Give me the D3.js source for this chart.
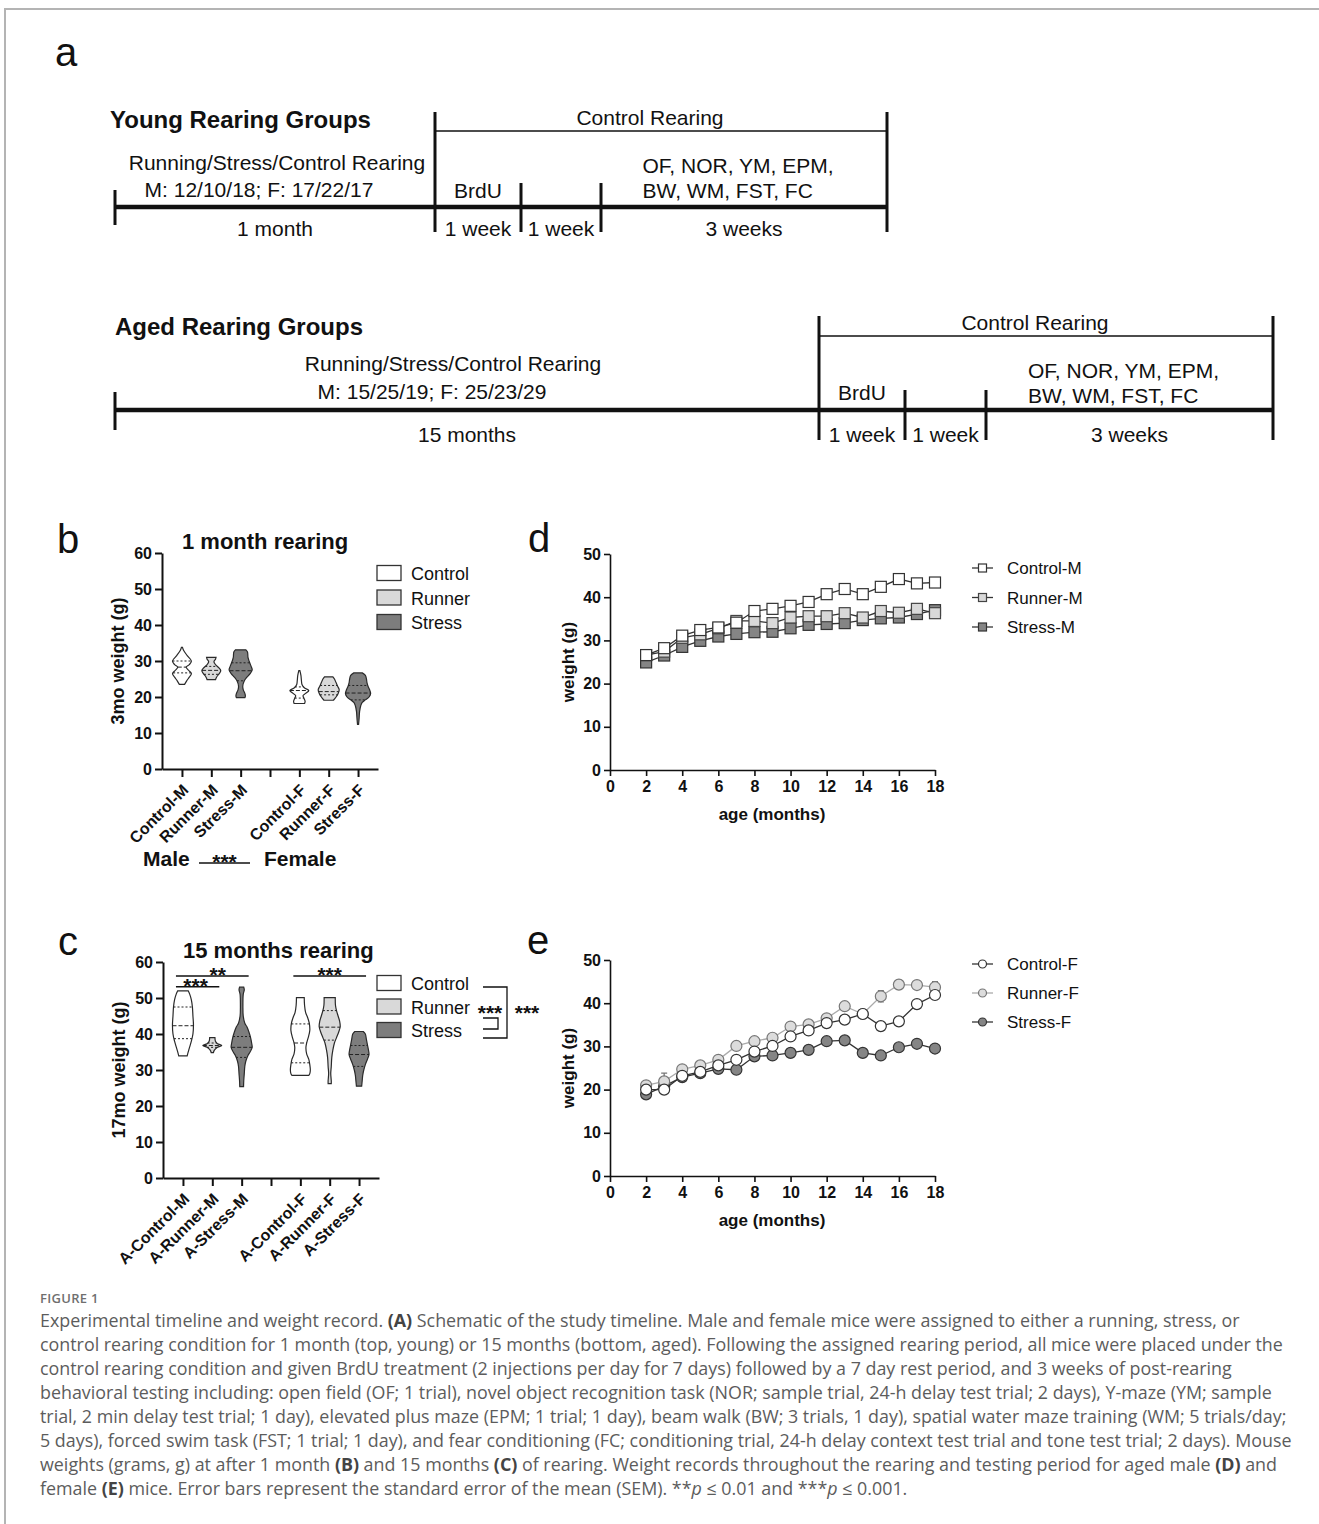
<!DOCTYPE html>
<html lang="en">
<head>
<meta charset="UTF-8">
<title>Figure 1 - timeline and weight record</title>
<script src="https://d3js.org/d3.v7.min.js"></script>
<style>
  body { margin: 0; background: #fff; }
  svg { display: block; }
  .fig text { font-family: "Liberation Sans", Arial, Helvetica, sans-serif; fill: #111; }
  .axis path, .axis line { stroke: #111; stroke-width: 2; }
  .axis.thin path, .axis.thin line { stroke-width: 1.6; }
  .axis text { font-weight: bold; font-size: 16px; fill: #111; }
  .cap text { font-family: "Open Sans", "Noto Sans", sans-serif; fill: #5c5c5c; }
</style>
</head>
<body>
<svg id="fig" class="fig" width="1319" height="1524"></svg>
<script>
// ---------- data ----------
// panel a: schematic segment spans (drawing units, not real time)
const youngLabels = ["1 month", "1 week", "1 week", "3 weeks"];
const youngSpans = [32, 8.6, 8, 28.6];
const agedLabels = ["15 months", "1 week", "1 week", "3 weeks"];
const agedSpans = [70.4, 8.6, 8.1, 28.7];

const groups = ["Control", "Runner", "Stress"];

// panel b (3mo weight, g): violin outlines as [weight, half width]
const slotsB = ["Control-M", "Runner-M", "Stress-M", "gap", "Control-F", "Runner-F", "Stress-F"];
const catsB = ["Control-M", "Runner-M", "Stress-M", "Control-F", "Runner-F", "Stress-F"];
const profilesB = [
  [[33.8,0.5],[33,1.5],[31.5,5],[30,9],[29,7],[28.3,4],[27.5,6],[26.5,9],[25.5,7],[24.5,4.5],[23.5,2.5]],
  [[31,4.5],[30.5,4],[29.8,2.5],[29,4],[28,7.5],[27.3,9],[26.5,7.5],[25.5,5],[24.8,4]],
  [[33.1,5],[32.5,6.5],[31,7],[30,8],[28.5,10],[27.5,11],[26.5,9],[25.5,6],[24.5,3.5],[23,2],[22,2.5],[21,4],[20.3,4.5],[19.8,4]],
  [[27.3,0.5],[26,1.5],[24.5,2],[23.5,2.5],[22.5,5],[21.8,9],[21,6],[20.4,3.5],[19.6,4.5],[18.8,5.5],[18.2,5]],
  [[25.6,4],[25,5.5],[24,7],[23,8.5],[22,10],[21,9],[20,7],[19.1,4.5]],
  [[26.7,4],[26,7],[25,8],[24,8.5],[23,9.5],[22,11],[21,12],[20,10.5],[19.2,7],[18.5,4],[17.5,2.5],[16,1.5],[14,1],[12.4,0.5]]
];
const q3B = [30, 28.5, 29.5, 22.8, 23.2, 23.2];
const medB = [28.3, 27.4, 27.3, 21.8, 21.5, 21.1];
const q1B = [26.7, 26.3, 24.5, 19.7, 20.6, 19.2];

// panel c (17mo weight, g)
const slotsC = ["A-Control-M", "A-Runner-M", "A-Stress-M", "gap", "A-Control-F", "A-Runner-F", "A-Stress-F"];
const catsC = ["A-Control-M", "A-Runner-M", "A-Stress-M", "A-Control-F", "A-Runner-F", "A-Stress-F"];
const profilesC = [
  [[52,5],[51,6.5],[49.5,8],[47.5,9],[45,9.5],[42.5,10],[40,9.5],[38,8],[36,6],[34.5,4.5],[33.9,4]],
  [[39,2.5],[38,3],[37.3,5],[36.8,9],[36.3,5],[35.5,2],[34.8,1]],
  [[53,2],[52.3,2.5],[51,1.5],[48,1.2],[45,1.5],[43,3],[42,5],[40.5,7],[39,8.5],[37.5,9.5],[36.3,10],[35,8],[34,6],[32.5,4],[31,3],[29,2.5],[27,2],[25.4,1.8]],
  [[50.1,3.7],[48,4],[46,5],[44.5,7],[43,8.5],[41,9],[39,7.5],[37.5,6],[36.2,5.3],[34.5,6],[33,8],[31.5,9],[30,9.5],[29,9],[28.5,8]],
  [[50.1,5.3],[48,5.5],[46.5,6.5],[45,8],[43.5,9.5],[42,10],[40.5,8.5],[39,6.5],[37.5,4.5],[35.5,3],[33.5,2],[31,1.5],[29,1],[27,1.5],[26.2,1.5]],
  [[40.7,4],[40,6],[38.5,7],[37,8],[35.5,9],[34.3,9.5],[33,8],[31.5,6],[30,4.5],[28.5,3.5],[27,3],[25.5,2.5]]
];
const q3C = [47.5, 37.5, 39.3, 42.8, 46.5, 36.8];
const medC = [42.3, 36.8, 36.3, 37.5, 41.9, 34.3];
const q1C = [38.7, 36.3, 33.5, 32, 38.3, 31];
const sigC = [
  { from: "A-Control-M", to: "A-Stress-M", level: 56.1, label: "**", dx: 5.5 },
  { from: "A-Control-M", to: "A-Runner-M", level: 53.1, label: "***", dx: -2 },
  { from: "A-Control-F", to: "A-Stress-F", level: 56.1, label: "***", dx: 0 }
];

// panels d, e: monthly weights (g)
const months = [2, 3, 4, 5, 6, 7, 8, 9, 10, 11, 12, 13, 14, 15, 16, 17, 18];
const controlM = [26.6,28.2,31.1,32.4,33.0,34.1,36.8,37.3,38.0,38.9,40.7,41.9,40.7,42.4,44.2,43.2,43.4];
const runnerM  = [26.6,27.4,30.6,31.4,32.8,34.5,34.5,34.0,35.3,35.6,35.6,36.3,35.3,36.8,36.4,37.3,36.3];
const stressM  = [24.9,26.5,28.5,29.9,30.9,31.5,31.9,32.0,32.8,33.6,33.8,34.0,34.7,35.1,35.3,36.1,37.0];
const semControlM = [0.5,0.5,0.6,0.6,0.6,0.6,0.7,0.7,0.7,0.7,0.8,0.8,0.8,0.8,0.9,0.9,0.9];
const semRunnerM  = [0.5,0.5,0.5,0.5,0.6,0.6,0.6,0.6,0.6,0.6,0.6,0.7,0.7,0.7,0.7,0.7,0.7];
const semStressM  = [0.5,0.5,0.5,0.5,0.5,0.5,0.6,0.6,0.6,0.6,0.6,0.6,0.6,0.6,0.6,0.7,0.9];

const controlF = [20.0,20.0,23.2,24.1,25.6,26.9,28.8,30.1,32.3,33.7,35.4,36.2,37.5,34.7,35.8,39.8,41.9];
const runnerF  = [21.0,21.9,24.7,25.6,26.9,30.1,31.2,32.0,34.6,35.1,36.5,39.3,37.5,41.6,44.3,44.2,43.7];
const stressF  = [18.9,20.8,22.9,23.8,24.8,24.6,27.7,27.9,28.5,29.2,31.2,31.4,28.5,27.9,29.8,30.6,29.5];
const semControlF = [0.5,0.6,0.5,0.5,0.5,0.5,0.6,0.6,0.6,0.7,0.8,0.9,0.6,0.7,0.9,0.7,0.8];
const semRunnerF  = [0.6,1.9,0.6,0.6,0.6,0.6,0.6,0.6,0.7,0.7,0.8,0.9,0.7,1.3,1.0,0.8,1.3];
const semStressF  = [0.5,0.5,0.5,0.5,0.5,0.5,0.6,0.6,0.6,0.6,0.8,0.7,0.8,0.7,0.6,0.6,0.6];

// caption, one entry per printed line: [text, style]
const captionLines = [
  [["Experimental timeline and weight record. "], ["(A)", "b"], [" Schematic of the study timeline. Male and female mice were assigned to either a running, stress, or"]],
  [["control rearing condition for 1 month (top, young) or 15 months (bottom, aged). Following the assigned rearing period, all mice were placed under the"]],
  [["control rearing condition and given BrdU treatment (2 injections per day for 7 days) followed by a 7 day rest period, and 3 weeks of post-rearing"]],
  [["behavioral testing including: open field (OF; 1 trial), novel object recognition task (NOR; sample trial, 24-h delay test trial; 2 days), Y-maze (YM; sample"]],
  [["trial, 2 min delay test trial; 1 day), elevated plus maze (EPM; 1 trial; 1 day), beam walk (BW; 3 trials, 1 day), spatial water maze training (WM; 5 trials/day;"]],
  [["5 days), forced swim task (FST; 1 trial; 1 day), and fear conditioning (FC; conditioning trial, 24-h delay context test trial and tone test trial; 2 days). Mouse"]],
  [["weights (grams, g) at after 1 month "], ["(B)", "b"], [" and 15 months "], ["(C)", "b"], [" of rearing. Weight records throughout the rearing and testing period for aged male "], ["(D)", "b"], [" and"]],
  [["female "], ["(E)", "b"], [" mice. Error bars represent the standard error of the mean (SEM). **"], ["p", "i"], [" \u2264 0.01 and ***"], ["p", "i"], [" \u2264 0.001."]]
];

// ---------- drawing ----------
const fig = d3.select("#fig");
const fill = d3.scaleOrdinal().domain(groups).range(["#ffffff", "#d9d9d9", "#7d7d7d"]);
const STAR = 21;

// frame
fig.append("line").attr("x1", 5).attr("x2", 1319).attr("y1", 9).attr("y2", 9)
  .attr("stroke", "#b4b4b4").attr("stroke-width", 2);
fig.append("line").attr("x1", 5).attr("x2", 5).attr("y1", 8).attr("y2", 1524)
  .attr("stroke", "#b4b4b4").attr("stroke-width", 2);

// panel letters
[["a", 55, 66], ["b", 57, 553], ["c", 58, 955], ["d", 528, 552], ["e", 527, 954]].forEach(([t, x, y]) => {
  fig.append("text").attr("x", x).attr("y", y).attr("font-size", 40).text(t);
});

// ---- panel a ----
const tx = d3.scaleLinear().domain([0, d3.sum(agedSpans)]).range([115, 1273]);

function timeline(cfg) {
  const g = fig.append("g").attr("font-size", 21);
  const edges = [0, ...d3.cumsum(cfg.spans)];
  const y0 = cfg.y;
  g.append("text").attr("x", cfg.titleX).attr("y", cfg.titleY)
    .attr("font-size", 24).attr("font-weight", "bold").text(cfg.title);

  g.append("line").attr("x1", tx(0)).attr("x2", tx(edges[4])).attr("y1", y0).attr("y2", y0)
    .attr("stroke", "#111").attr("stroke-width", 4.5);
  const ext = [cfg.startExt, cfg.bigExt, cfg.innerExt, cfg.innerExt, cfg.bigExt];
  edges.forEach((e, i) => {
    g.append("line").attr("x1", tx(e)).attr("x2", tx(e))
      .attr("y1", y0 + ext[i][0]).attr("y2", y0 + ext[i][1])
      .attr("stroke", "#111").attr("stroke-width", 3);
  });
  g.append("line").attr("x1", tx(edges[1])).attr("x2", tx(edges[4]))
    .attr("y1", y0 + cfg.thin).attr("y2", y0 + cfg.thin)
    .attr("stroke", "#111").attr("stroke-width", 1.3);

  const mid = i => (tx(edges[i]) + tx(edges[i + 1])) / 2;
  cfg.labels.forEach((t, i) => {
    g.append("text").attr("x", mid(i)).attr("y", y0 + cfg.below).attr("text-anchor", "middle").text(t);
  });
  g.append("text").attr("x", (tx(edges[1]) + tx(edges[4])) / 2 - 11).attr("y", y0 + cfg.thin - 6)
    .attr("text-anchor", "middle").text("Control Rearing");
  g.append("text").attr("x", mid(0) + cfg.rearDx).attr("y", y0 + cfg.rearY)
    .attr("text-anchor", "middle").text("Running/Stress/Control Rearing");
  g.append("text").attr("x", mid(0) + cfg.nDx).attr("y", y0 + cfg.nY)
    .attr("text-anchor", "middle").text(cfg.counts);
  g.append("text").attr("x", mid(1)).attr("y", y0 + cfg.nY + 1)
    .attr("text-anchor", "middle").text("BrdU");
  const t1 = g.append("text").attr("y", y0 + cfg.testY).text("OF, NOR, YM, EPM,");
  const w1 = t1.node().getComputedTextLength();
  t1.attr("x", mid(3) - w1 / 2 - 6);
  g.append("text").attr("x", mid(3) - w1 / 2 - 6).attr("y", y0 + cfg.testY + 25).text("BW, WM, FST, FC");
}

timeline({
  title: "Young Rearing Groups", titleX: 110, titleY: 128, y: 207, spans: youngSpans, labels: youngLabels,
  startExt: [-17, 18], bigExt: [-95, 25], innerExt: [-24, 25], thin: -76, below: 29,
  rearDx: 2, rearY: -37, nDx: -16, nY: -10, testY: -34, counts: "M: 12/10/18; F: 17/22/17"
});
timeline({
  title: "Aged Rearing Groups", titleX: 115, titleY: 335, y: 410, spans: agedSpans, labels: agedLabels,
  startExt: [-18, 20], bigExt: [-94, 30], innerExt: [-20, 30], thin: -74, below: 32,
  rearDx: -14, rearY: -39, nDx: -35, nY: -11, testY: -32, counts: "M: 15/25/19; F: 25/23/29"
});

// ---- violin panels ----
function halfAt(prof, v) {
  for (let i = 0; i < prof.length - 1; i++) {
    const a = prof[i], b = prof[i + 1];
    if (v <= a[0] && v >= b[0]) return a[1] + (b[1] - a[1]) * (a[0] - v) / (a[0] - b[0]);
  }
  return 0;
}

function violinPanel(cfg) {
  const g = fig.append("g");
  const x = d3.scalePoint().domain(cfg.slots).range([cfg.left, cfg.right]).padding(0.68);
  const y = d3.scaleLinear().domain([0, 60]).range([cfg.bottom, cfg.top]);
  const w = d3.scaleLinear().domain([0, 10]).range([0, 10.5]);
  const groupOf = c => c.replace(/^A-/, "").split("-")[0];

  cfg.cats.forEach((c, i) => {
    const prof = cfg.profiles[i];
    const cx = x(c);
    const area = d3.area().curve(d3.curveCatmullRom.alpha(0.5))
      .y(d => y(d[0])).x0(d => cx - w(d[1])).x1(d => cx + w(d[1]));
    g.append("path").attr("d", area(prof))
      .attr("fill", fill(groupOf(c))).attr("stroke", "#2a2a2a").attr("stroke-width", 1.2);
    [[cfg.q1[i], "2,2"], [cfg.med[i], "4,2"], [cfg.q3[i], "2,2"]].forEach(([v, dash]) => {
      const hw = w(halfAt(prof, v));
      g.append("line").attr("x1", cx - hw).attr("x2", cx + hw).attr("y1", y(v)).attr("y2", y(v))
        .attr("stroke", "#222").attr("stroke-width", 1).attr("stroke-dasharray", dash);
    });
  });

  g.append("g").attr("class", "axis").attr("transform", `translate(${cfg.left},0)`)
    .call(d3.axisLeft(y).tickValues([0, 10, 20, 30, 40, 50, 60]).tickSize(7).tickSizeOuter(0).tickPadding(3));
  const xa = g.append("g").attr("class", "axis").attr("transform", `translate(0,${cfg.bottom})`)
    .call(d3.axisBottom(x).tickSize(8).tickSizeOuter(0).tickFormat(d => d === "gap" ? "" : d));
  xa.selectAll("text").attr("x", null).attr("y", null).attr("dy", null)
    .attr("text-anchor", "end").attr("transform", "translate(7,22) rotate(-45)");

  g.append("text").attr("transform", `translate(${cfg.left - 38},${(cfg.top + cfg.bottom) / 2}) rotate(-90)`)
    .attr("text-anchor", "middle").attr("font-size", 18).attr("font-weight", "bold").text(cfg.ylabel);
  g.append("text").attr("x", cfg.left + 20).attr("y", cfg.top - 4)
    .attr("font-size", 22).attr("font-weight", "bold").text(cfg.title);

  // legend
  groups.forEach((gr, i) => {
    const cy = cfg.legendY + i * cfg.legendStep;
    g.append("rect").attr("x", 377).attr("y", cy - 7.5).attr("width", 24).attr("height", 15)
      .attr("fill", fill(gr)).attr("stroke", "#333").attr("stroke-width", 1.3);
    g.append("text").attr("x", 411).attr("y", cy + 7).attr("font-size", 18).text(gr);
  });
  return { g, x, y };
}

violinPanel({
  slots: slotsB, cats: catsB, profiles: profilesB, q1: q1B, med: medB, q3: q3B,
  left: 162, right: 378, top: 553, bottom: 769, ylabel: "3mo weight (g)", title: "1 month rearing",
  legendY: 573, legendStep: 24.5
});

// Male *** Female
fig.append("text").attr("x", 143).attr("y", 866).attr("font-size", 21).attr("font-weight", "bold").text("Male");
fig.append("text").attr("x", 264).attr("y", 866).attr("font-size", 21).attr("font-weight", "bold").text("Female");
fig.append("line").attr("x1", 199).attr("x2", 250).attr("y1", 863).attr("y2", 863).attr("stroke", "#111").attr("stroke-width", 1.5);
fig.append("text").attr("x", 224.5).attr("y", 869).attr("text-anchor", "middle").attr("font-size", STAR).attr("font-weight", "bold").text("***");

const pc = violinPanel({
  slots: slotsC, cats: catsC, profiles: profilesC, q1: q1C, med: medC, q3: q3C,
  left: 163, right: 379, top: 962, bottom: 1178, ylabel: "17mo weight (g)", title: "15 months rearing",
  legendY: 983, legendStep: 23.5
});
sigC.forEach(s => {
  const yy = pc.y(s.level);
  const x1 = pc.x(s.from) - 7, x2 = pc.x(s.to) + 7;
  pc.g.append("line").attr("x1", x1).attr("x2", x2).attr("y1", yy).attr("y2", yy)
    .attr("stroke", "#111").attr("stroke-width", 1.5);
  pc.g.append("text").attr("x", (x1 + x2) / 2 + s.dx).attr("y", yy + 6).attr("text-anchor", "middle")
    .attr("font-size", STAR).attr("font-weight", "bold").text(s.label);
});
// legend brackets (Control vs Stress, Runner vs Stress)
pc.g.append("path").attr("d", "M483,987H507V1038H483").attr("fill", "none").attr("stroke", "#111").attr("stroke-width", 1.3);
pc.g.append("path").attr("d", "M483,1018H498V1029H483").attr("fill", "none").attr("stroke", "#111").attr("stroke-width", 1.3);
pc.g.append("text").attr("x", 490).attr("y", 1020).attr("text-anchor", "middle").attr("font-size", STAR).attr("font-weight", "bold").text("***");
pc.g.append("text").attr("x", 527).attr("y", 1020).attr("text-anchor", "middle").attr("font-size", STAR).attr("font-weight", "bold").text("***");

// ---- line panels ----
function marker(g, shape, cx, cy, size, s) {
  if (shape === "square") {
    g.append("rect").attr("x", cx - size / 2).attr("y", cy - size / 2).attr("width", size).attr("height", size)
      .attr("fill", s.fill).attr("stroke", s.stroke).attr("stroke-width", 1.2);
  } else {
    g.append("circle").attr("cx", cx).attr("cy", cy).attr("r", size / 2)
      .attr("fill", s.fill).attr("stroke", s.stroke).attr("stroke-width", 1.2);
  }
}

function linePanel(cfg) {
  const g = fig.append("g");
  const x = d3.scaleLinear().domain([0, 18]).range([610, 935]);
  const y = d3.scaleLinear().domain([0, 50]).range([cfg.bottom, cfg.bottom - 216]);

  g.append("g").attr("class", "axis thin").attr("transform", "translate(610,0)")
    .call(d3.axisLeft(y).tickValues([0, 10, 20, 30, 40, 50]).tickSize(6).tickSizeOuter(0).tickPadding(3));
  g.append("g").attr("class", "axis thin").attr("transform", `translate(0,${cfg.bottom})`)
    .call(d3.axisBottom(x).tickValues([0, 2, 4, 6, 8, 10, 12, 14, 16, 18]).tickSize(6).tickSizeOuter(0).tickPadding(5));
  g.append("text").attr("x", 772).attr("y", cfg.bottom + 50).attr("text-anchor", "middle")
    .attr("font-size", 17).attr("font-weight", "bold").text("age (months)");
  g.append("text").attr("transform", `translate(574,${cfg.bottom - 108}) rotate(-90)`)
    .attr("text-anchor", "middle").attr("font-size", 17).attr("font-weight", "bold").text("weight (g)");

  const line = d3.line().x((d, i) => x(months[i])).y(d => y(d));
  // draw last series first so the first one sits on top
  cfg.series.slice().reverse().forEach(s => {
    const sg = g.append("g");
    sg.append("path").attr("d", line(s.values)).attr("fill", "none")
      .attr("stroke", s.line).attr("stroke-width", 1.3);
    s.values.forEach((v, i) => {
      const px = x(months[i]), e = s.sem[i];
      sg.append("path").attr("d", `M${px},${y(v - e)}V${y(v + e)}M${px - 3},${y(v + e)}H${px + 3}M${px - 3},${y(v - e)}H${px + 3}`)
        .attr("stroke", s.stroke).attr("stroke-width", 1.3).attr("fill", "none");
    });
    s.values.forEach((v, i) => marker(sg, cfg.shape, x(months[i]), y(v), 11, s));
  });

  cfg.series.forEach((s, i) => {
    const cy = cfg.legendY + i * cfg.legendStep;
    g.append("line").attr("x1", 972).attr("x2", 993).attr("y1", cy).attr("y2", cy)
      .attr("stroke", s.line).attr("stroke-width", 1.3);
    marker(g, cfg.shape, 982.5, cy, 8, s);
    g.append("text").attr("x", 1007).attr("y", cy + 6).attr("font-size", 17).text(s.name);
  });
}

linePanel({
  shape: "square", bottom: 770, legendY: 568, legendStep: 29.5,
  series: [
    { name: "Control-M", values: controlM, sem: semControlM, fill: "#ffffff", stroke: "#333", line: "#333" },
    { name: "Runner-M", values: runnerM, sem: semRunnerM, fill: "#d9d9d9", stroke: "#444", line: "#333" },
    { name: "Stress-M", values: stressM, sem: semStressM, fill: "#858585", stroke: "#333", line: "#333" }
  ]
});
linePanel({
  shape: "circle", bottom: 1176, legendY: 964, legendStep: 29,
  series: [
    { name: "Control-F", values: controlF, sem: semControlF, fill: "#ffffff", stroke: "#333", line: "#333" },
    { name: "Runner-F", values: runnerF, sem: semRunnerF, fill: "#dcdcdc", stroke: "#777", line: "#aaa" },
    { name: "Stress-F", values: stressF, sem: semStressF, fill: "#858585", stroke: "#333", line: "#333" }
  ]
});

// ---- caption ----
const cap = fig.append("g").attr("class", "cap");
cap.append("text").attr("x", 40).attr("y", 1303).attr("font-size", 13).attr("font-weight", 600)
  .attr("letter-spacing", 0.3).style("fill", "#6f6f6f").text("FIGURE 1");
const capTexts = captionLines.map((parts, li) => {
  const t = cap.append("text").attr("x", 40).attr("y", 1327 + li * 24).attr("font-size", 16);
  parts.forEach(([s, st]) => {
    const sp = t.append("tspan").text(s);
    if (st === "b") sp.attr("font-weight", "bold").style("fill", "#444");
    if (st === "i") sp.attr("font-style", "italic");
  });
  return t;
});
const measured = capTexts[5].node().getComputedTextLength();
const fs = 16 * 1252 / measured;
capTexts.forEach(t => t.attr("font-size", fs));
</script>
</body>
</html>
